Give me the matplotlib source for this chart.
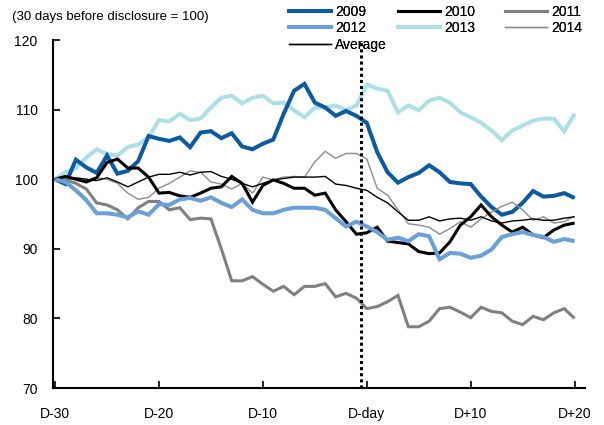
import matplotlib
matplotlib.use("Agg")
import matplotlib.pyplot as plt
from matplotlib.lines import Line2D
import numpy as np

plt.rcParams['font.family'] = ['Liberation Sans Narrow', 'Liberation Sans', 'DejaVu Sans']

days = list(range(-30, 21))
tick_days = [-30, -20, -10, 0, 10, 20]
tick_labels = ["D-30", "D-20", "D-10", "D-day", "D+10", "D+20"]
y_ticks = [70, 80, 90, 100, 110, 120]

s2009 = [100, 99.3, 102.8, 101.7, 100.9, 103.4, 100.8, 101.2, 102.6, 106.2,
         105.8, 105.5, 106.0, 104.6, 106.7, 106.9, 105.9, 106.6, 104.7, 104.3,
         105.1, 105.7, 109.4, 112.7, 113.7, 111.0, 110.3, 109.1, 109.8, 109.1,
         108.1, 103.9, 101.0, 99.5, 100.3, 100.9, 102.0, 101.0, 99.6, 99.4,
         99.3, 97.5, 96.0, 94.9, 95.3, 96.6, 98.3, 97.5, 97.6, 98.0, 97.3]
s2010 = [100, 100.4, 100.0, 99.6, 100.2, 102.4, 102.9, 101.6, 101.6, 100.3,
         98.0, 98.1, 97.6, 97.4, 98.0, 98.7, 98.9, 100.4, 99.4, 96.7,
         99.1, 99.9, 99.4, 98.7, 98.7, 97.7, 98.0, 95.6, 93.9, 92.1,
         92.3, 93.1, 91.1, 90.9, 90.7, 89.6, 89.3, 89.4, 91.0, 93.4,
         94.6, 96.3, 94.6, 93.4, 92.4, 93.1, 92.0, 91.6, 92.7, 93.4, 93.7]
s2011 = [100, 99.9, 99.4, 98.6, 96.6, 96.3, 95.6, 94.3, 95.9, 96.8,
         96.8, 95.6, 95.9, 94.2, 94.4, 94.3, 90.0, 85.4, 85.4, 86.0,
         84.9, 83.9, 84.6, 83.4, 84.6, 84.6, 85.0, 83.1, 83.6, 82.9,
         81.4, 81.7, 82.4, 83.3, 78.8, 78.8, 79.6, 81.4, 81.6, 80.9,
         80.1, 81.6, 81.0, 80.8, 79.6, 79.1, 80.3, 79.8, 80.8, 81.4, 80.0]
s2012 = [100, 99.6, 98.4, 97.0, 95.1, 95.1, 94.9, 94.5, 95.4, 94.9,
         96.4, 96.3, 97.1, 97.3, 96.9, 97.4, 96.6, 96.0, 97.1, 95.6,
         95.1, 95.1, 95.6, 95.9, 95.9, 95.9, 95.6, 94.4, 93.2, 93.9,
         93.2, 92.4, 91.3, 91.6, 91.1, 92.1, 91.8, 88.5, 89.4, 89.3,
         88.7, 89.0, 89.9, 91.7, 92.1, 92.4, 92.0, 91.7, 91.0, 91.4, 91.1]
s2013 = [100, 101.0, 101.6, 103.1, 104.3, 103.6, 103.4, 104.6, 105.0, 106.0,
         108.5, 108.3, 109.4, 108.5, 108.7, 110.3, 111.7, 112.0, 110.9, 111.7,
         112.0, 110.9, 111.0, 109.9, 108.9, 110.3, 110.3, 110.6, 109.9, 110.6,
         113.6, 113.0, 112.7, 109.6, 110.6, 109.9, 111.3, 111.7, 111.0, 109.6,
         108.9, 108.1, 107.0, 105.6, 107.0, 107.7, 108.4, 108.7, 108.7, 106.9, 109.4]
s2014 = [100, 100.1, 100.0, 99.8, 100.2, 100.0, 99.4, 98.0, 97.1, 97.4,
         98.7, 99.4, 100.3, 101.2, 101.0, 99.6, 99.3, 98.6, 99.4, 98.0,
         100.3, 99.9, 100.3, 100.4, 100.3, 102.5, 104.0, 103.0, 103.7, 103.7,
         102.9, 98.7, 97.7, 95.6, 93.6, 93.4, 93.1, 92.1, 92.9, 93.9,
         93.1, 94.3, 95.3, 96.1, 96.7, 95.6, 94.1, 94.6, 93.7, 93.9, 94.7]
average = [100, 100.3, 100.2, 100.0, 99.8, 100.2, 99.6, 98.9, 99.6, 100.3,
           100.7, 100.7, 101.0, 100.6, 101.0, 101.1, 100.4, 100.0, 99.4, 98.9,
           99.4, 99.9, 100.1, 100.3, 100.3, 100.3, 100.4, 99.3, 99.1, 98.7,
           98.4, 97.4, 96.6, 95.3, 94.1, 94.1, 94.6, 94.0, 94.3, 94.4,
           94.1, 94.6, 94.0, 93.7, 94.0, 94.1, 94.3, 94.1, 94.1, 94.4, 94.6]

series = {
    "2009": (s2009, "#0b5aa2", 2.9),
    "2010": (s2010, "#000000", 2.2),
    "2011": (s2011, "#808080", 2.2),
    "2012": (s2012, "#6a9fd8", 2.9),
    "2013": (s2013, "#ade0e6", 2.9),
    "2014": (s2014, "#8c8c8c", 1.0),
    "Average": (average, "#000000", 1.0),
}
draw_order = ["2013", "2009", "2014", "Average", "2011", "2010", "2012"]

fig = plt.figure(figsize=(6.04, 4.25), dpi=100)
ax = fig.add_axes([53/604, 1-388/425, (585-53)/604, (388-40)/425])

for name in draw_order:
    vals, col, lw = series[name]
    ax.plot(days, vals, color=col, lw=lw, solid_joinstyle='miter',
            solid_capstyle='butt', zorder=3)

ax.axvline(-0.6, color="black", lw=2.2, ls=(0, (1, 1)), zorder=4)

ax.set_xlim(-30.2, 21.0)
ax.set_ylim(70, 120)
ax.set_xticks(tick_days)
ax.set_xticklabels(tick_labels)
ax.set_yticks(y_ticks)
for sp in ["top", "right"]:
    ax.spines[sp].set_visible(False)
for sp in ["left", "bottom"]:
    ax.spines[sp].set_linewidth(1.5)
ax.tick_params(direction="in", length=5, width=1.2, labelsize=10, colors="black")
ax.tick_params(axis="y", pad=11)
ax.tick_params(axis="x", pad=14)

fig.text(12/604, 1-17/425, "(30 days before disclosure = 100)", fontsize=9.5,
         ha="left", va="center")

cols = [["2009", "2012", "Average"], ["2010", "2013"], ["2011", "2014"]]
xstarts = [289, 398, 505]
for names, xs in zip(cols, xstarts):
    hs = []
    for n in names:
        vals, col, lw = series[n]
        hs.append(Line2D([], [], color=col, lw=lw))
    lg = fig.legend(hs, names, loc="upper left",
                    bbox_to_anchor=(xs/604, 1-4.5/425), frameon=False,
                    fontsize=10, handlelength=3.0, handletextpad=0.3,
                    labelspacing=0.2, borderpad=0, borderaxespad=0)
    fig.add_artist(lg)

fig.savefig("out.png", dpi=100)
